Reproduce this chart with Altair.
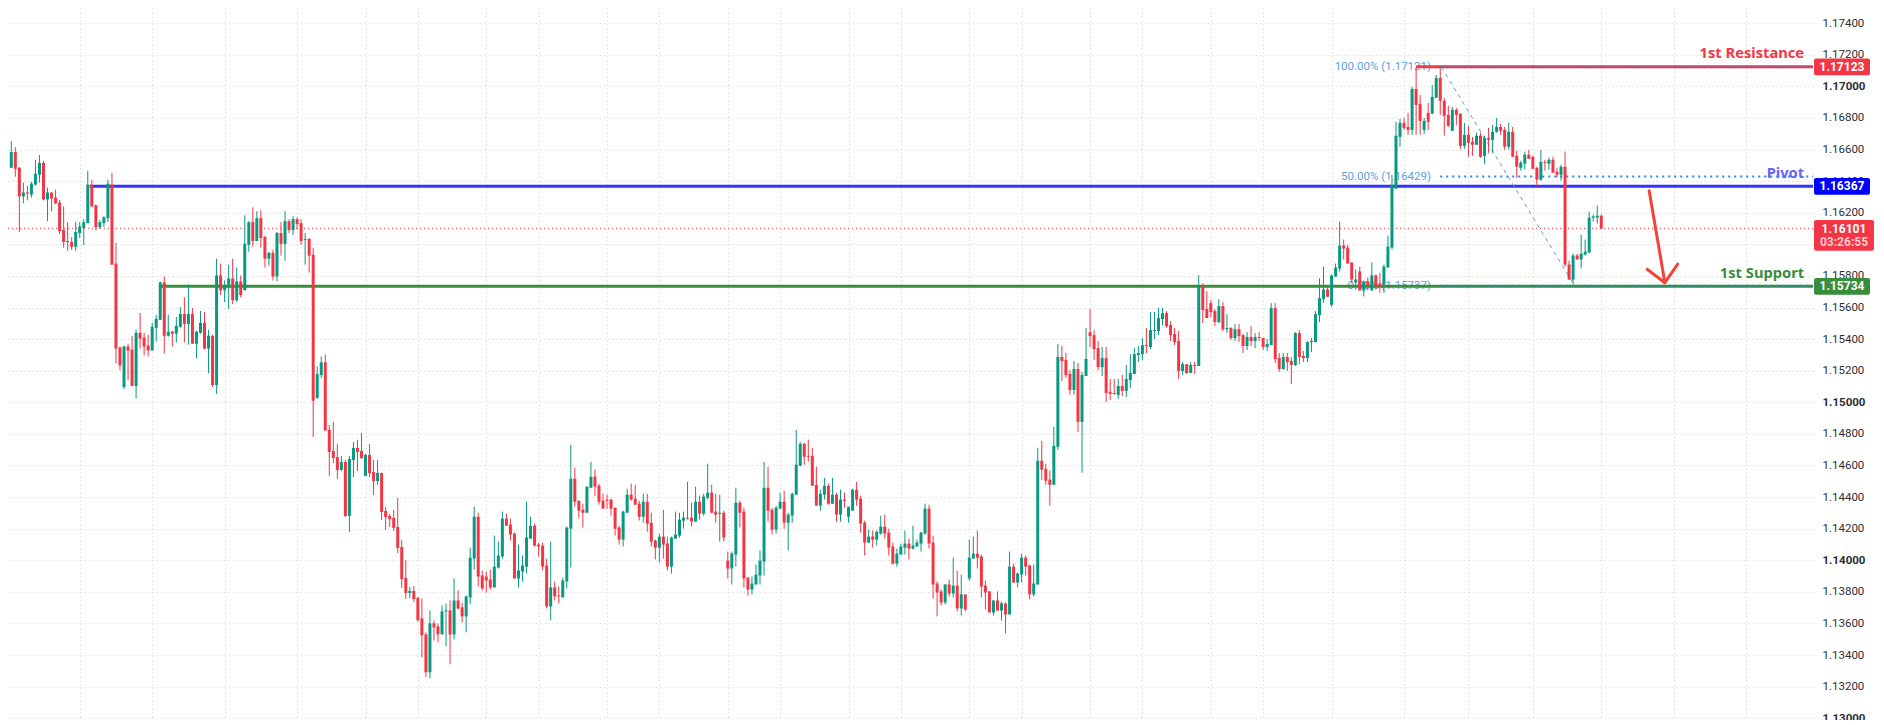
import altair as alt
import pandas as pd

# EURUSD candles, in points (price * 100000)
opens = [
    116484,116584,116484,116303,116328,116315,116378,116440,116515,116284,
    116328,116296,116265,116090,116021,116015,115984,116071,116103,116134,
    116378,116246,116109,116134,116165,116378,115878,115347,115097,115353,
    115334,115103,115440,115409,115359,115328,115471,115522,115759,115421,
    115447,115434,115478,115559,115496,115559,115371,115440,115503,115340,
    115421,115109,115803,115709,115728,115784,115646,115765,115709,115996,
    116140,116021,116165,116046,115909,115946,115796,116071,116003,116146,
    116090,116159,116134,116028,116034,115934,115028,115172,115253,114825,
    114692,114654,114572,114622,114281,114635,114711,114692,114534,114667,
    114559,114502,114553,114312,114281,114268,114211,114084,113888,113793,
    113806,113761,113632,113531,113291,113601,113582,113531,113676,113683,
    113531,113746,113702,113645,113765,114011,114276,113904,113897,113878,
    113828,113954,114024,114264,114226,114169,113885,113929,113960,114137,
    114219,114099,114093,113967,113708,113828,113777,113765,113866,114200,
    114516,114377,114320,114301,114459,114529,114472,114377,114384,114384,
    114333,114207,114131,114301,114415,114390,114358,114276,114371,114238,
    114125,114080,114150,114106,113960,114137,114156,114251,114270,114270,
    114245,114371,114295,114396,114428,114308,114295,114301,113998,113948,
    114036,114365,114308,113891,113815,113847,113904,113992,114459,114320,
    114194,114327,114371,114238,114283,114415,114598,114737,114661,114661,
    114478,114346,114415,114472,114358,114415,114289,114384,114276,114314,
    114447,114390,114238,114112,114150,114131,114169,114213,114175,114087,
    113979,114036,114080,114106,114074,114087,114106,114169,114327,114112,
    113853,113803,113733,113847,113790,113840,113695,113784,113885,114011,
    114042,114024,113840,113803,113670,113746,113682,113727,113657,113960,
    113859,113910,114017,113967,113784,113847,114630,114579,114510,114478,
    114718,115287,115268,115179,115078,115211,114876,115167,115444,115425,
    115343,115223,115280,115066,115059,115047,115103,115072,115141,115179,
    115299,115305,115362,115350,115451,115451,115526,115564,115489,115432,
    115388,115198,115242,115186,115236,115230,115735,115590,115628,115577,
    115508,115609,115463,115470,115407,115463,115425,115356,115413,115388,
    115413,115407,115350,115362,115596,115280,115211,115287,115261,115236,
    115438,115293,115280,115381,115381,115552,115655,115714,115617,115796,
    115847,115992,115979,115885,115758,115828,115706,115765,115708,115803,
    115752,115746,115853,115979,116352,116680,116769,116743,116724,116983,
    116889,116724,116832,116826,116927,117053,116908,116819,116718,116851,
    116826,116623,116693,116649,116630,116687,116560,116674,116661,116712,
    116743,116724,116617,116712,116560,116484,116510,116567,116554,116484,
    116409,116522,116510,116535,116459,116440,116491,115872,115777,115929,
    115904,115935,115948,116169,116169,116181,
]
highs = [
    116653,116615,116490,116390,116371,116396,116534,116565,116528,116359,
    116328,116346,116282,116240,116140,116046,116140,116140,116159,116465,
    116409,116253,116153,116178,116409,116453,116009,115353,115359,115371,
    115421,115459,115565,115440,115428,115503,115553,115765,115796,115553,
    115453,115540,115603,115665,115746,115596,115453,115578,115571,115459,
    115428,115909,115878,115771,115871,115909,115853,115803,116184,116146,
    116234,116209,116215,116053,115953,115965,116078,116140,116209,116159,
    116178,116171,116159,116071,116040,115978,115228,115290,115303,114857,
    114876,114736,114660,114635,114660,114749,114762,114806,114673,114736,
    114635,114635,114553,114337,114293,114318,114394,114129,114002,113831,
    113837,113768,113758,113544,113683,113620,113601,113714,113727,113746,
    113885,113809,113733,113777,114080,114339,114301,113935,113929,113942,
    114156,114118,114308,114295,114264,114175,114099,114030,114371,114276,
    114232,114112,114112,114011,114118,113866,113834,113891,114213,114731,
    114586,114377,114358,114466,114624,114573,114485,114421,114415,114390,
    114333,114219,114314,114453,114485,114478,114377,114421,114421,114301,
    114131,114169,114320,114150,114150,114308,114301,114308,114497,114365,
    114466,114409,114421,114611,114478,114421,114415,114314,114055,114055,
    114459,114377,114333,113891,113897,113973,114062,114624,114592,114333,
    114346,114428,114440,114301,114428,114826,114750,114744,114763,114712,
    114592,114447,114522,114485,114522,114428,114447,114428,114339,114453,
    114497,114409,114251,114194,114188,114188,114282,114289,114200,114112,
    114074,114106,114188,114137,114219,114131,114181,114358,114352,114156,
    113866,113815,113847,113878,114017,113935,113910,113784,114131,114150,
    114188,114036,113872,113803,113746,113803,113739,113733,114055,113979,
    113922,114042,114030,113973,113973,114712,114756,114611,114567,114844,
    115369,115356,115312,115204,115261,115249,115192,115470,115590,115457,
    115388,115350,115350,115148,115148,115148,115173,115236,115305,115343,
    115356,115407,115470,115571,115571,115596,115596,115577,115514,115470,
    115451,115255,115242,115255,115255,115804,115754,115703,115647,115590,
    115653,115634,115558,115476,115495,115495,115432,115444,115482,115438,
    115444,115407,115400,115628,115628,115312,115312,115312,115287,115444,
    115457,115324,115388,115407,115577,115785,115859,115735,115809,115878,
    116144,116030,115998,115885,115840,115859,115771,115790,115885,115809,
    115819,115872,116055,116440,116775,116794,116800,116832,116996,117120,
    116946,116800,116895,117009,117072,117114,116927,116876,116870,116863,
    116832,116769,116750,116680,116706,116706,116687,116737,116756,116800,
    116762,116743,116769,116743,116592,116529,116586,116598,116560,116491,
    116598,116535,116548,116554,116484,116503,116586,115897,115941,115941,
    116061,116030,116207,116188,116245,116188,
]
lows = [
    116484,116428,116078,116259,116278,116296,116371,116390,116278,116146,
    116209,116253,116065,115978,115959,115965,115959,116040,115996,116134,
    116234,116090,116096,116109,116140,115871,115247,115203,115084,115140,
    115103,115024,115340,115297,115290,115328,115384,115522,115309,115415,
    115353,115378,115471,115378,115365,115371,115278,115434,115334,115184,
    115097,115053,115678,115634,115590,115621,115634,115665,115709,115953,
    115984,116021,115978,115853,115865,115771,115765,115928,115896,116071,
    116059,116096,115996,115871,115821,114781,115022,115153,114821,114534,
    114616,114515,114565,114274,114179,114527,114565,114641,114534,114527,
    114413,114477,114255,114192,114211,114186,114046,113825,113755,113761,
    113736,113610,113386,113260,113253,113493,113481,113531,113455,113342,
    113500,113689,113607,113544,113721,113942,113834,113809,113796,113815,
    113828,113948,114011,114219,114125,113885,113828,113866,113916,114137,
    114087,114024,113935,113695,113620,113746,113727,113765,113822,113954,
    114339,114264,114207,114301,114459,114409,114352,114327,114327,114283,
    114156,114099,114087,114301,114377,114352,114251,114238,114181,114087,
    114005,113986,114011,113935,113916,114137,114144,114200,114257,114213,
    114245,114257,114283,114384,114301,114238,114118,114118,113885,113847,
    113960,114207,113828,113777,113784,113847,113847,113904,114245,114163,
    114169,114327,114200,114062,114238,114415,114598,114605,114624,114472,
    114346,114314,114384,114352,114358,114245,114245,114333,114238,114314,
    114346,114175,114030,114112,114080,114093,114162,114137,114030,113973,
    113960,114036,114036,114005,114068,114087,114055,114162,114074,113758,
    113645,113714,113720,113771,113765,113676,113651,113676,113872,114011,
    113948,113765,113689,113670,113651,113682,113619,113537,113657,113859,
    113828,113859,113904,113752,113771,113847,114510,114478,114346,114478,
    114699,115135,115154,115047,115047,114813,114554,115167,115350,115268,
    115204,115167,115002,115015,115047,115021,115040,115034,115091,115179,
    115255,115268,115312,115337,115400,115425,115489,115470,115388,115362,
    115148,115173,115179,115186,115179,115230,115501,115533,115539,115482,
    115501,115451,115438,115394,115388,115381,115312,115331,115356,115343,
    115388,115331,115324,115362,115249,115192,115204,115198,115116,115230,
    115242,115255,115255,115318,115381,115508,115630,115668,115605,115796,
    115828,115904,115878,115752,115714,115708,115670,115708,115708,115714,
    115693,115693,115853,115967,116352,116617,116724,116693,116693,116693,
    116693,116699,116724,116826,116927,116819,116687,116743,116718,116756,
    116604,116604,116554,116560,116630,116548,116510,116579,116579,116706,
    116693,116598,116598,116554,116421,116466,116472,116541,116478,116365,
    116402,116466,116472,116453,116421,116402,115859,115777,115746,115904,
    115847,115929,115941,116144,116131,116099,
]
closes = [
    116584,116478,116303,116328,116321,116384,116446,116515,116284,116328,
    116290,116259,116084,116015,116015,115984,116078,116113,116140,116378,
    116240,116109,116140,116171,116384,115871,115340,115234,115353,115328,
    115103,115440,115403,115353,115328,115478,115528,115759,115421,115447,
    115434,115484,115559,115496,115559,115371,115447,115503,115340,115421,
    115109,115803,115709,115734,115784,115646,115765,115678,116003,116140,
    116021,116165,116040,115909,115946,115796,116071,116003,116146,116090,
    116159,116128,116021,116034,115928,115010,115178,115253,114821,114686,
    114648,114572,114622,114281,114641,114711,114686,114648,114667,114553,
    114502,114553,114306,114274,114261,114205,114078,113882,113793,113806,
    113755,113622,113525,113291,113601,113575,113531,113676,113683,113531,
    113746,113695,113645,113771,114017,114276,113897,113822,113872,113828,
    113960,114030,114264,114219,114163,113885,113935,113967,114144,114219,
    114093,114087,113960,113708,113828,113771,113771,113872,114207,114516,
    114371,114314,114301,114466,114529,114466,114371,114327,114377,114327,
    114200,114131,114308,114415,114384,114352,114276,114371,114232,114118,
    114080,114150,114099,113960,114144,114163,114257,114270,114264,114245,
    114371,114295,114403,114428,114301,114289,114301,114144,113948,114043,
    114365,114301,113885,113815,113853,113910,113998,114459,114314,114194,
    114333,114371,114238,114289,114421,114605,114737,114655,114655,114472,
    114346,114421,114472,114358,114415,114289,114384,114377,114339,114447,
    114384,114232,114112,114150,114131,114181,114213,114169,114080,113979,
    114042,114087,114106,114074,114093,114112,114175,114327,114106,113847,
    113796,113733,113847,113790,113840,113695,113784,113689,114017,114042,
    114017,113834,113796,113670,113746,113682,113727,113657,113960,113859,
    113916,114017,113960,113784,113853,114630,114573,114504,114478,114724,
    115287,115261,115173,115078,115211,114876,115173,115274,115419,115337,
    115223,115280,115059,115053,115053,115103,115072,115148,115186,115305,
    115312,115362,115356,115457,115457,115533,115564,115482,115425,115381,
    115198,115242,115186,115236,115230,115735,115583,115533,115571,115508,
    115609,115463,115470,115407,115463,115419,115356,115413,115388,115413,
    115407,115350,115369,115596,115274,115211,115287,115255,115236,115438,
    115287,115280,115381,115388,115558,115659,115714,115668,115803,115853,
    115992,115973,115878,115777,115777,115708,115765,115739,115803,115739,
    115733,115859,115986,116377,116687,116769,116737,116724,116983,116882,
    116781,116781,116775,116933,117053,116908,116813,116750,116851,116819,
    116623,116693,116642,116630,116687,116554,116674,116661,116712,116743,
    116718,116617,116712,116554,116491,116516,116567,116541,116478,116409,
    116522,116516,116535,116453,116440,116491,115872,115777,115929,115904,
    115941,115954,116169,116177,116181,116101,
]

# price axis ticks and the vertical grid, the grid sits on bar numbers
price_ticks = [1.130, 1.132, 1.134, 1.136, 1.138, 1.140, 1.142, 1.144, 1.146, 1.148, 1.150, 1.152,
               1.154, 1.156, 1.158, 1.160, 1.162, 1.164, 1.166, 1.168, 1.170, 1.172, 1.174]
time_ticks = [17, 35, 53, 71, 88, 101, 118, 131, 148, 161, 178, 191, 208, 221, 238, 251, 268, 281,
              298, 311, 328, 346, 362, 378, 395, 413, 431]

# support and resistance levels
level_names = ['1st Resistance', 'Pivot', '1st Support']
level_prices = [1.17123, 1.16367, 1.15734]
level_starts = [349, 19.5, 36.7]
level_label_prices = [1.17204, 1.16447, 1.15812]
level_tag_text = ['1.17123', '1.16367', '1.15734']
level_line_colors = ['#F23645', '#3333FF', '#388E3C']
level_tag_colors = ['#F23645', '#0000FF', '#388E3C']
level_text_colors = ['#F23645', '#6464FF', '#388E3C']

# fib retracement
fib_labels = ['100.00% (1.17121)', '50.00% (1.16429)', '0.00% (1.15737)']
fib_prices = [1.17121, 1.16429, 1.15737]
fib_diag_bars = [355.3, 388.4]
fib_diag_prices = [1.17121, 1.15737]

# current price
last_price = 1.16101
last_text = ['1.16101', '03:26:55']
last_text_prices = [1.160987, 1.160127]
last_text_colors = ['#FFFFFF', '#FFC9CF']

# hand drawn arrow
arrow_part = ['shaft', 'shaft', 'head', 'head', 'head']
arrow_bars = [406.9, 410.8, 406.4, 410.8, 414.0]
arrow_prices = [1.163392, 1.15757, 1.158418, 1.15757, 1.158753]

right_edge = 447.6
tag_left = 447.85
tag_right = 461.76
tag_right_last = 462.75
label_bar = 445.4
fib_label_bar = 352.7

x_scale = alt.Scale(domain=[-0.82, right_edge], zero=False, nice=False, padding=0)
y_scale = alt.Scale(domain=[1.129892, 1.174956], zero=False, nice=False, padding=0)

# every layer has to carry the same axis or vega-lite drops it when merging
x_axis = alt.Axis(values=time_ticks, labels=False, ticks=False, domain=False, title=None,
                  grid=True, gridColor='#CCCCCC', gridDash=[1, 3], gridWidth=1)
y_axis = alt.Axis(orient='right', values=price_ticks, format='.5f', title=None, ticks=False, domain=False,
                  grid=True, gridColor='#CCCCCC', gridDash=[1, 3], gridWidth=1,
                  labelFont='Roboto', labelFontSize=11.5, labelPadding=9, labelAlign='left',
                  labelColor='#2A2E39', labelOverlap=False, labelBound=False,
                  labelFontWeight={'condition': {'test': 'abs(datum.value*100-round(datum.value*100))<0.000001',
                                                 'value': 'bold'}, 'value': 'normal'})


def x_of(field):
    return alt.X(field + ':Q', scale=x_scale, axis=x_axis)


def y_of(field):
    return alt.Y(field + ':Q', scale=y_scale, axis=y_axis)


candles = pd.DataFrame({'bar': range(len(opens)), 'open': opens, 'high': highs, 'low': lows, 'close': closes})
for col in ['open', 'high', 'low', 'close']:
    candles[col] = candles[col] / 100000
candles['color'] = ['#089981' if c >= o else '#F23645' for o, c in zip(opens, closes)]

levels = pd.DataFrame({'name': level_names, 'price': level_prices, 'start': level_starts,
                       'label_price': level_label_prices, 'tag': level_tag_text,
                       'line_color': level_line_colors, 'tag_color': level_tag_colors,
                       'text_color': level_text_colors})
levels['end'] = right_edge
levels['tag_left'] = tag_left
levels['tag_right'] = tag_right
levels['tag_top'] = levels['price'] + 0.00053
levels['tag_bottom'] = levels['price'] - 0.00053
levels['label_bar'] = label_bar
levels['tag_mid'] = (tag_left + tag_right) / 2

fibs = pd.DataFrame({'label': fib_labels, 'price': fib_prices, 'bar': fib_label_bar, 'start': 355.0, 'end': right_edge})
fib_diag = pd.DataFrame({'bar': fib_diag_bars, 'price': fib_diag_prices})

last_line = pd.DataFrame({'price': [last_price], 'start': [-0.82], 'end': [right_edge]})
last_box = pd.DataFrame({'left': [tag_left], 'right': [tag_right_last], 'top': [1.161538], 'bottom': [1.159595]})
last_labels = pd.DataFrame({'text': last_text, 'price': last_text_prices, 'color': last_text_colors,
                            'bar': (tag_left + tag_right_last) / 2})
arrow = pd.DataFrame({'part': arrow_part, 'bar': arrow_bars, 'price': arrow_prices})
arrow['step'] = range(len(arrow))

fib_text = alt.Chart(fibs).mark_text(align='right', baseline='middle', font='Roboto', fontSize=11.5, color='#5D9FE0').encode(
    x=x_of('bar'), y=y_of('price'), text='label:N')

last_rule = alt.Chart(last_line).mark_rule(color='#F23645', strokeWidth=1, strokeDash=[1, 3]).encode(
    x=x_of('start'), x2='end:Q', y=y_of('price'))

level_rules = alt.Chart(levels).mark_rule(strokeWidth=3).encode(
    x=x_of('start'), x2='end:Q', y=y_of('price'),
    color=alt.Color('line_color:N', scale=None))

fib_rules = alt.Chart(fibs).mark_rule(color='#1E88E5', strokeWidth=2, strokeDash=[2, 4]).encode(
    x=x_of('start'), x2='end:Q', y=y_of('price'))

fib_line = alt.Chart(fib_diag).mark_line(color='#5D9FE0', strokeWidth=1, strokeDash=[4, 4]).encode(
    x=x_of('bar'), y=y_of('price'))

wicks = alt.Chart(candles).mark_rule(strokeWidth=1).encode(
    x=x_of('bar'), y=y_of('low'), y2='high:Q',
    color=alt.Color('color:N', scale=None))

bodies = alt.Chart(candles).mark_bar(size=3).encode(
    x=x_of('bar'), y=y_of('open'), y2='close:Q',
    color=alt.Color('color:N', scale=None))

level_text = alt.Chart(levels).mark_text(align='right', baseline='middle', font='Noto Sans', fontSize=14.7, fontWeight='bold').encode(
    x=x_of('label_bar'), y=y_of('label_price'), text='name:N',
    color=alt.Color('text_color:N', scale=None))

arrow_lines = alt.Chart(arrow).mark_line(color='#F44336', strokeWidth=3, strokeCap='round', strokeJoin='round').encode(
    x=x_of('bar'), y=y_of('price'), detail='part:N', order='step:Q')

level_tags = alt.Chart(levels).mark_rect(cornerRadius=2).encode(
    x=x_of('tag_left'), x2='tag_right:Q', y=y_of('tag_top'), y2='tag_bottom:Q',
    color=alt.Color('tag_color:N', scale=None))

level_tag_text_marks = alt.Chart(levels).mark_text(baseline='middle', font='Roboto', fontSize=12, fontWeight='bold', color='white').encode(
    x=x_of('tag_mid'), y=y_of('price'), text='tag:N')

last_tag = alt.Chart(last_box).mark_rect(cornerRadius=2, color='#F23645').encode(
    x=x_of('left'), x2='right:Q', y=y_of('top'), y2='bottom:Q')

last_tag_text = alt.Chart(last_labels).mark_text(baseline='middle', font='Roboto', fontSize=12, fontWeight='bold').encode(
    x=x_of('bar'), y=y_of('price'), text='text:N', color=alt.Color('color:N', scale=None))

chart = alt.layer(
    fib_text, last_rule, level_rules, fib_rules, fib_line, wicks, bodies, level_text, arrow_lines,
    level_tags, level_tag_text_marks, last_tag, last_tag_text
).properties(
    width=1805,
    height=712,
    padding={'left': 0, 'top': 0, 'right': 63, 'bottom': 0},
    autosize=alt.AutoSizeParams(type='none'),
    background='white'
).configure_view(strokeWidth=0)

chart.save("out.html", embed_options={"renderer": "svg", "actions": False})
